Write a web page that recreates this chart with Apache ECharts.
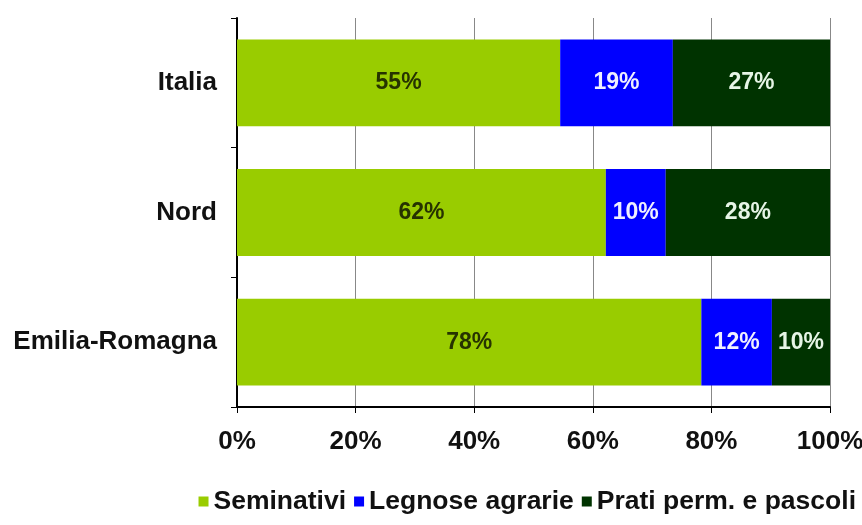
<!DOCTYPE html>
<html>
<head>
<meta charset="utf-8">
<script src="https://cdn.jsdelivr.net/npm/echarts@6/dist/echarts.min.js"></script>
<style>
  html, body { margin: 0; padding: 0; background: #ffffff; }
  #chart { width: 862px; height: 525px; }
</style>
</head>
<body>
<div id="chart"></div>
<script>
const categories = ['Italia', 'Nord', 'Emilia-Romagna'];
const seriesNames = ['Seminativi', 'Legnose agrarie', 'Prati perm. e pascoli'];
const seminativi = [54.5, 62.2, 78.3];
const legnose = [19.0, 10.1, 11.9];
const prati = [26.5, 27.7, 9.8];
const xTicks = [0, 20, 40, 60, 80, 100];

const FONT = '"Liberation Sans Narrow", "Arial Narrow", "Liberation Sans", Arial, sans-serif';
const colors = ['#99cc00', '#0000ff', '#003300'];
const labelColors = ['#263300', '#f0f0ff', '#e6f5e6'];

function mk(name, data, i) {
  return {
    name: name,
    type: 'bar',
    stack: 'total',
    data: data,
    barCategoryGap: '33%',
    itemStyle: { color: colors[i] },
    label: {
      show: true,
      position: 'inside',
      formatter: p => Math.round(p.value) + '%',
      color: labelColors[i],
      fontFamily: FONT,
      fontWeight: 'bold',
      fontSize: 23
    }
  };
}

const chart = echarts.init(document.getElementById('chart'));
chart.setOption({
  animation: false,
  backgroundColor: '#ffffff',
  grid: { left: 237, right: 32, top: 18, bottom: 118, outerBoundsMode: 'none', containLabel: false },
  legend: {
    data: seriesNames,
    right: 1,
    top: 483,
    itemWidth: 10,
    itemHeight: 10,
    itemGap: 8,
    icon: 'rect',
    textStyle: { fontFamily: FONT, fontWeight: 'bold', fontSize: 26.5, color: '#111' }
  },
  xAxis: {
    type: 'value',
    min: 0,
    max: 100,
    interval: 20,
    axisLine: { show: true, lineStyle: { color: '#000', width: 2 } },
    axisTick: { show: true, length: 6, lineStyle: { color: '#000' } },
    splitLine: { show: true, lineStyle: { color: '#888', width: 1 } },
    axisLabel: {
      formatter: v => xTicks.includes(v) ? v + '%' : '',
      fontFamily: FONT, fontWeight: 'bold', fontSize: 26, color: '#111', margin: 22
    }
  },
  yAxis: {
    type: 'category',
    data: categories,
    inverse: true,
    axisLine: { show: true, lineStyle: { color: '#000', width: 2 } },
    axisTick: { show: true, length: 6, lineStyle: { color: '#000' } },
    axisLabel: {
      fontFamily: FONT, fontWeight: 'bold', fontSize: 26, color: '#111', margin: 20
    }
  },
  series: [
    mk(seriesNames[0], seminativi, 0),
    mk(seriesNames[1], legnose, 1),
    mk(seriesNames[2], prati, 2)
  ]
});
</script>
</body>
</html>
